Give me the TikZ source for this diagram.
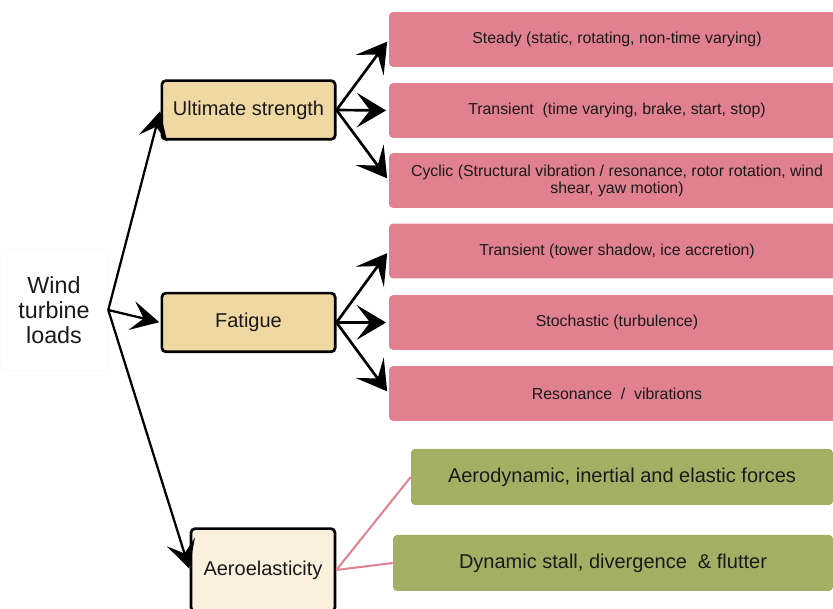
\documentclass[tikz,border=0pt]{standalone}
\usepackage{fontspec}
\setmainfont{Liberation Sans}
\usetikzlibrary{arrows.meta}

\definecolor{tanbox}{RGB}{240,216,163}
\definecolor{creambox}{RGB}{250,240,222}
\definecolor{pinkbox}{RGB}{225,128,143}
\definecolor{greenbox}{RGB}{163,176,100}
\definecolor{inkdark}{RGB}{26,26,26}

\begin{document}
\begin{tikzpicture}[x=0.75pt,y=-0.75pt,
    loadbox/.style={align=center,text=inkdark,draw=black!3,rounded corners=4pt,
        minimum width=81pt,minimum height=91pt,font=\fontsize{17.5}{18.75}\selectfont},
    mainbox/.style={draw,line width=2pt,rounded corners=3pt,fill=tanbox,text=inkdark,
        minimum width=130pt,minimum height=44pt,font=\fontsize{15}{18}\selectfont},
    kindbox/.style={fill=pinkbox,rounded corners=3pt,align=center,text=inkdark,
        minimum width=342pt,minimum height=41pt,font=\fontsize{11.9}{12.75}\selectfont},
    aerobox/.style={fill=greenbox,rounded corners=3pt,text=inkdark,
        minimum height=42pt,font=\fontsize{15}{18}\selectfont},
    bigarrow/.style={-{Stealth[length=22pt,width=26pt,inset=10pt]},line width=2pt,shorten >=2pt},
    rootarrow/.style={-{Stealth[length=21pt,width=22pt,inset=9pt]},line width=1.7pt,shorten >=1pt},
    pinkline/.style={draw=pinkbox,line width=1.5pt}]
    \useasboundingbox (0,0) rectangle (833,609);
    \clip (0,0) rectangle (833,609);

    \node[loadbox] (loads) at (54,310) {Wind\\turbine\\loads};

    \node[mainbox] (ult) at (248.5,110) {Ultimate strength};
    \node[mainbox] (fat) at (248.5,322.5) {Fatigue};
    \node[mainbox,fill=creambox,minimum width=108pt,minimum height=62pt] (aero) at (263,570) {Aeroelasticity};

    \node[kindbox] (steady) at (617,39.5) {Steady (static, rotating, non-time varying)};
    \node[kindbox] (trans) at (617,110.5) {Transient~ (time varying, brake, start, stop)};
    \node[kindbox] (cyclic) at (617,180.5) {Cyclic (Structural vibration / resonance, rotor rotation, wind\\shear, yaw motion)};
    \node[kindbox] (shadow) at (617,251) {Transient (tower shadow, ice accretion)};
    \node[kindbox] (stoch) at (617,322.5) {Stochastic (turbulence)};
    \node[kindbox] (reson) at (617,393.5) {Resonance~ /~ vibrations};

    \node[aerobox,minimum width=316.5pt] (forces) at (622,477) {Aerodynamic, inertial and elastic forces};
    \node[aerobox,minimum width=330pt] (stall) at (613,563) {Dynamic stall, divergence~ \& flutter};

    \draw[rootarrow] (loads.east) -- (ult.west);
    \draw[rootarrow] (loads.east) -- (fat.west);
    \draw[rootarrow] (loads.east) -- (aero.west);

    \draw[bigarrow] (ult.east) -- (steady.west);
    \draw[bigarrow] (ult.east) -- (trans.west);
    \draw[bigarrow] (ult.east) -- (cyclic.west);

    \draw[bigarrow] (fat.east) -- (shadow.west);
    \draw[bigarrow] (fat.east) -- (stoch.west);
    \draw[bigarrow] (fat.east) -- (reson.west);

    \draw[pinkline] (aero.east) -- (forces.west);
    \draw[pinkline] (aero.east) -- (stall.west);
\end{tikzpicture}
\end{document}
